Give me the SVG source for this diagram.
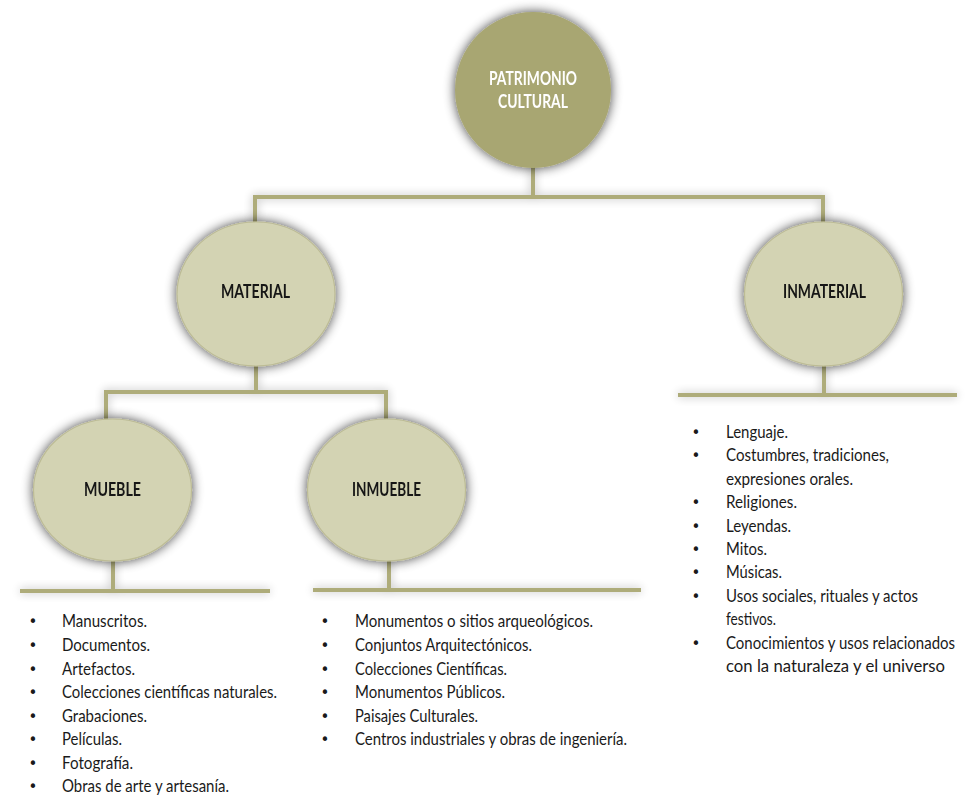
<svg xmlns="http://www.w3.org/2000/svg" width="973" height="797" viewBox="0 0 973 797">
<defs>
<filter id="sh" x="-30%" y="-30%" width="160%" height="160%">
<feGaussianBlur in="SourceAlpha" stdDeviation="6"/>
<feComponentTransfer><feFuncA type="linear" slope="0.75"/></feComponentTransfer>
<feOffset dx="0" dy="0" result="b"/>
<feMerge><feMergeNode in="b"/><feMergeNode in="SourceGraphic"/></feMerge>
</filter>
<filter id="lsh" x="-5%" y="-200%" width="110%" height="500%">
<feGaussianBlur in="SourceAlpha" stdDeviation="5"/>
<feComponentTransfer><feFuncA type="linear" slope="0.3"/></feComponentTransfer>
<feMerge><feMergeNode/><feMergeNode in="SourceGraphic"/></feMerge>
</filter>
</defs>
<style>
.ln{stroke:#aeac7a;stroke-width:4;fill:none}
.top{fill:#a8a672}
.el{fill:#d3d3b3;stroke:#bdbc95;stroke-width:1.2}
.lbl{font-family:Lato,"Open Sans","DejaVu Sans",sans-serif;font-weight:bold;font-size:18px;text-anchor:middle;fill:#151515}
.wl{fill:#ffffff}
.li{font-family:Lato,"Open Sans","DejaVu Sans",sans-serif;font-size:18px;fill:#1a1a1a}
.bu{font-family:"DejaVu Sans",sans-serif;font-size:15px;fill:#1a1a1a;text-anchor:middle}
</style>
<rect width="973" height="797" fill="#ffffff"/>
<g id="connectors" filter="url(#lsh)">
<path class="ln" d="M533 166 V197 M255 197 H823 M255 195 V224 M823 195 V224"/>
<path class="ln" d="M256 364 V392 M106 392 H386 M106 390 V420 M386 390 V420"/>
<path class="ln" d="M113 558 V591 M20 591 H270"/>
<path class="ln" d="M389 558 V590 M313 590 H641"/>
<path class="ln" d="M824 364 V395 M678 395 H957"/>
</g>
<g id="patrimonio" filter="url(#sh)">
<circle class="top" cx="533" cy="90" r="78"/>
<text class="lbl wl" x="533" y="85" textLength="88" lengthAdjust="spacingAndGlyphs">PATRIMONIO</text>
<text class="lbl wl" x="533" y="108" textLength="70" lengthAdjust="spacingAndGlyphs">CULTURAL</text>
</g>
<g id="material" filter="url(#sh)">
<ellipse class="el" cx="256" cy="294" rx="79" ry="72"/>
<text class="lbl" x="255.5" y="298" textLength="69" lengthAdjust="spacingAndGlyphs">MATERIAL</text>
</g>
<g id="inmaterial" filter="url(#sh)">
<ellipse class="el" cx="823.5" cy="294" rx="79" ry="72"/>
<text class="lbl" x="824.5" y="298" textLength="83" lengthAdjust="spacingAndGlyphs">INMATERIAL</text>
</g>
<g id="mueble" filter="url(#sh)">
<ellipse class="el" cx="112.5" cy="490" rx="79" ry="71"/>
<text class="lbl" x="112.5" y="496" textLength="57" lengthAdjust="spacingAndGlyphs">MUEBLE</text>
</g>
<g id="inmueble" filter="url(#sh)">
<ellipse class="el" cx="386.5" cy="490" rx="79" ry="71"/>
<text class="lbl" x="386.5" y="496" textLength="69" lengthAdjust="spacingAndGlyphs">INMUEBLE</text>
</g>
<g id="lista-mueble">
<text class="bu" x="33" y="627">•</text><text class="li" x="62" y="627" textLength="85" lengthAdjust="spacingAndGlyphs">Manuscritos.</text>
<text class="bu" x="33" y="651">•</text><text class="li" x="62" y="651" textLength="88" lengthAdjust="spacingAndGlyphs">Documentos.</text>
<text class="bu" x="33" y="674.5">•</text><text class="li" x="62" y="674.5" textLength="73" lengthAdjust="spacingAndGlyphs">Artefactos.</text>
<text class="bu" x="33" y="698">•</text><text class="li" x="62" y="698" textLength="215" lengthAdjust="spacingAndGlyphs">Colecciones científicas naturales.</text>
<text class="bu" x="33" y="721.5">•</text><text class="li" x="62" y="721.5" textLength="85" lengthAdjust="spacingAndGlyphs">Grabaciones.</text>
<text class="bu" x="33" y="745">•</text><text class="li" x="62" y="745" textLength="60" lengthAdjust="spacingAndGlyphs">Películas.</text>
<text class="bu" x="33" y="768.5">•</text><text class="li" x="62" y="768.5" textLength="71" lengthAdjust="spacingAndGlyphs">Fotografía.</text>
<text class="bu" x="33" y="792">•</text><text class="li" x="62" y="792" textLength="167" lengthAdjust="spacingAndGlyphs">Obras de arte y artesanía.</text>
</g>
<g id="lista-inmueble">
<text class="bu" x="325" y="627">•</text><text class="li" x="355" y="627" textLength="238" lengthAdjust="spacingAndGlyphs">Monumentos o sitios arqueológicos.</text>
<text class="bu" x="325" y="651">•</text><text class="li" x="355" y="651" textLength="177" lengthAdjust="spacingAndGlyphs">Conjuntos Arquitectónicos.</text>
<text class="bu" x="325" y="674.5">•</text><text class="li" x="355" y="674.5" textLength="152" lengthAdjust="spacingAndGlyphs">Colecciones Científicas.</text>
<text class="bu" x="325" y="698">•</text><text class="li" x="355" y="698" textLength="150" lengthAdjust="spacingAndGlyphs">Monumentos Públicos.</text>
<text class="bu" x="325" y="721.5">•</text><text class="li" x="355" y="721.5" textLength="123" lengthAdjust="spacingAndGlyphs">Paisajes Culturales.</text>
<text class="bu" x="325" y="745">•</text><text class="li" x="355" y="745" textLength="272" lengthAdjust="spacingAndGlyphs">Centros industriales y obras de ingeniería.</text>
</g>
<g id="lista-inmaterial">
<text class="bu" x="696" y="438">•</text><text class="li" x="726" y="438" textLength="62" lengthAdjust="spacingAndGlyphs">Lenguaje.</text>
<text class="bu" x="696" y="461.4">•</text><text class="li" x="726" y="461.4" textLength="163" lengthAdjust="spacingAndGlyphs">Costumbres, tradiciones,</text>
<text class="li" x="726" y="484.8" textLength="127" lengthAdjust="spacingAndGlyphs">expresiones orales.</text>
<text class="bu" x="696" y="508.2">•</text><text class="li" x="726" y="508.2" textLength="71" lengthAdjust="spacingAndGlyphs">Religiones.</text>
<text class="bu" x="696" y="531.6">•</text><text class="li" x="726" y="531.6" textLength="65" lengthAdjust="spacingAndGlyphs">Leyendas.</text>
<text class="bu" x="696" y="555">•</text><text class="li" x="726" y="555" textLength="41" lengthAdjust="spacingAndGlyphs">Mitos.</text>
<text class="bu" x="696" y="578.4">•</text><text class="li" x="726" y="578.4" textLength="56" lengthAdjust="spacingAndGlyphs">Músicas.</text>
<text class="bu" x="696" y="601.8">•</text><text class="li" x="726" y="601.8" textLength="192" lengthAdjust="spacingAndGlyphs">Usos sociales, rituales y actos</text>
<text class="li" x="726" y="625.2" textLength="50" lengthAdjust="spacingAndGlyphs">festivos.</text>
<text class="bu" x="696" y="648.6">•</text><text class="li" x="726" y="648.6" textLength="229" lengthAdjust="spacingAndGlyphs">Conocimientos y usos relacionados</text>
<text class="li" x="726" y="672" textLength="219" lengthAdjust="spacingAndGlyphs">con la naturaleza y el universo</text>
</g>
</svg>
